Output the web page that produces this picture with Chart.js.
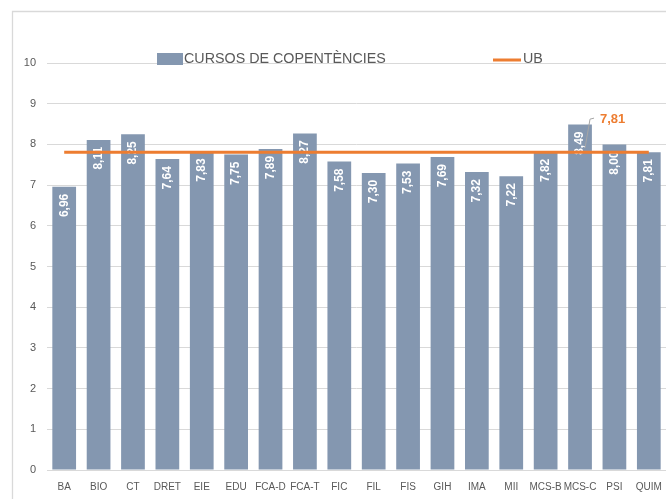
<!DOCTYPE html>
<html>
<head>
<meta charset="utf-8">
<script src="https://cdn.jsdelivr.net/npm/chart.js@4.4.1/dist/chart.umd.min.js"></script>
<style>
html,body{margin:0;padding:0;background:#fff;}
#wrap{width:666px;height:499px;position:relative;}
</style>
</head>
<body>
<div id="wrap"><canvas id="c" width="666" height="499"></canvas></div>
<script>
const categories = ['BA','BIO','CT','DRET','EIE','EDU','FCA-D','FCA-T','FIC','FIL','FIS','GIH','IMA','MII','MCS-B','MCS-C','PSI','QUIM'];
const cursosValues = [6.96,8.11,8.25,7.64,7.83,7.75,7.89,8.27,7.58,7.30,7.53,7.69,7.32,7.22,7.82,8.49,8.00,7.81];
const ubValues = [7.81,7.81,7.81,7.81,7.81,7.81,7.81,7.81,7.81,7.81,7.81,7.81,7.81,7.81,7.81,7.81,7.81,7.81];
const yTicks = [0,1,2,3,4,5,6,7,8,9,10];
const seriesNames = ['CURSOS DE COPENTÈNCIES','UB'];
const ubLabelIndex = 15;

const BAR_COLOR = '#8497b0';
const LINE_COLOR = '#ed7d31';
const GRID = '#d9d9d9';
const TEXT = '#595959';
const FONT = "'Liberation Sans', Arial, sans-serif";

const fmt = v => v.toFixed(2).replace('.', ',');

const framePlugin = {
  id: 'frame',
  beforeDraw(chart) {
    const ctx = chart.ctx;
    ctx.save();
    ctx.fillStyle = '#fff';
    ctx.fillRect(0, 0, chart.width, chart.height);
    ctx.strokeStyle = GRID;
    ctx.lineWidth = 1.3;
    ctx.beginPath();
    ctx.moveTo(12.5, chart.height + 2);
    ctx.lineTo(12.5, 11.5);
    ctx.lineTo(chart.width + 2, 11.5);
    ctx.stroke();
    ctx.restore();
  }
};

const barLabelPlugin = {
  id: 'barLabels',
  afterDatasetDraw(chart, args) {
    if (args.index !== 1) return;
    const ctx = chart.ctx;
    const meta = args.meta;
    ctx.save();
    ctx.fillStyle = '#ffffff';
    ctx.font = "bold 12px " + FONT;
    ctx.textAlign = 'right';
    ctx.textBaseline = 'middle';
    meta.data.forEach((bar, i) => {
      ctx.save();
      ctx.translate(bar.x, bar.y + 7);
      ctx.rotate(-Math.PI / 2);
      ctx.fillText(fmt(cursosValues[i]), 0, 0);
      ctx.restore();
    });
    ctx.restore();
  }
};

const extrasPlugin = {
  id: 'extras',
  afterDraw(chart) {
    const ctx = chart.ctx;
    // UB data label with leader line
    const lineMeta = chart.getDatasetMeta(0);
    const pt = lineMeta.data[ubLabelIndex];
    ctx.save();
    ctx.strokeStyle = '#a6a6a6';
    ctx.lineWidth = 1;
    ctx.beginPath();
    ctx.moveTo(pt.x + 5, pt.y - 4);
    ctx.lineTo(pt.x + 10, pt.y - 33);
    ctx.lineTo(pt.x + 14, pt.y - 34);
    ctx.stroke();
    ctx.fillStyle = LINE_COLOR;
    ctx.font = "bold 13px " + FONT;
    ctx.textAlign = 'left';
    ctx.textBaseline = 'middle';
    ctx.fillText(fmt(ubValues[ubLabelIndex]), pt.x + 20, pt.y - 33);
    ctx.restore();

    // legend overlapping the top of the plot
    const ca = chart.chartArea;
    const ly = ca.top - 4;
    ctx.save();
    ctx.font = "14.3px " + FONT;
    ctx.textBaseline = 'middle';
    ctx.textAlign = 'left';
    ctx.fillStyle = BAR_COLOR;
    ctx.fillRect(157, ly - 6, 26, 12);
    ctx.fillStyle = TEXT;
    ctx.fillText(seriesNames[0], 184, ly);
    ctx.strokeStyle = LINE_COLOR;
    ctx.lineWidth = 3;
    ctx.beginPath();
    ctx.moveTo(493, ly + 1);
    ctx.lineTo(521, ly + 1);
    ctx.stroke();
    ctx.fillStyle = TEXT;
    ctx.fillText(seriesNames[1], 523, ly);
    ctx.restore();
  }
};

new Chart(document.getElementById('c'), {
  data: {
    labels: categories,
    datasets: [
      {
        type: 'line',
        label: seriesNames[1],
        data: ubValues,
        borderColor: LINE_COLOR,
        backgroundColor: LINE_COLOR,
        borderWidth: 3,
        pointRadius: 0,
        pointHoverRadius: 0,
        tension: 0,
        order: 0
      },
      {
        type: 'bar',
        label: seriesNames[0],
        data: cursosValues,
        backgroundColor: BAR_COLOR,
        borderWidth: 0,
        categoryPercentage: 1,
        barPercentage: 0.69,
        order: 1
      }
    ]
  },
  options: {
    responsive: false,
    animation: false,
    devicePixelRatio: 1,
    layout: { padding: { top: 63, left: 0, right: 0, bottom: 0 } },
    plugins: {
      legend: { display: false },
      tooltip: { enabled: false },
      title: { display: false }
    },
    scales: {
      x: {
        grid: { display: false, drawTicks: false },
        border: { display: true, color: GRID, width: 1 },
        ticks: {
          color: TEXT,
          font: { family: FONT, size: 10 },
          padding: 11,
          maxRotation: 0,
          minRotation: 0,
          autoSkip: false
        },
        afterFit(s) { s.height = 29; s.paddingLeft = 0; s.paddingRight = 0; }
      },
      y: {
        min: yTicks[0],
        max: yTicks[yTicks.length - 1],
        afterBuildTicks(s) { s.ticks = yTicks.map(v => ({ value: v })); },
        grid: { color: GRID, lineWidth: 1, drawTicks: false },
        border: { display: false },
        ticks: {
          color: TEXT,
          font: { family: FONT, size: 11 },
          padding: 11
        },
        afterFit(s) { s.width = 47; s.paddingTop = 0; s.paddingBottom = 0; }
      }
    }
  },
  plugins: [framePlugin, barLabelPlugin, extrasPlugin]
});
</script>
</body>
</html>
